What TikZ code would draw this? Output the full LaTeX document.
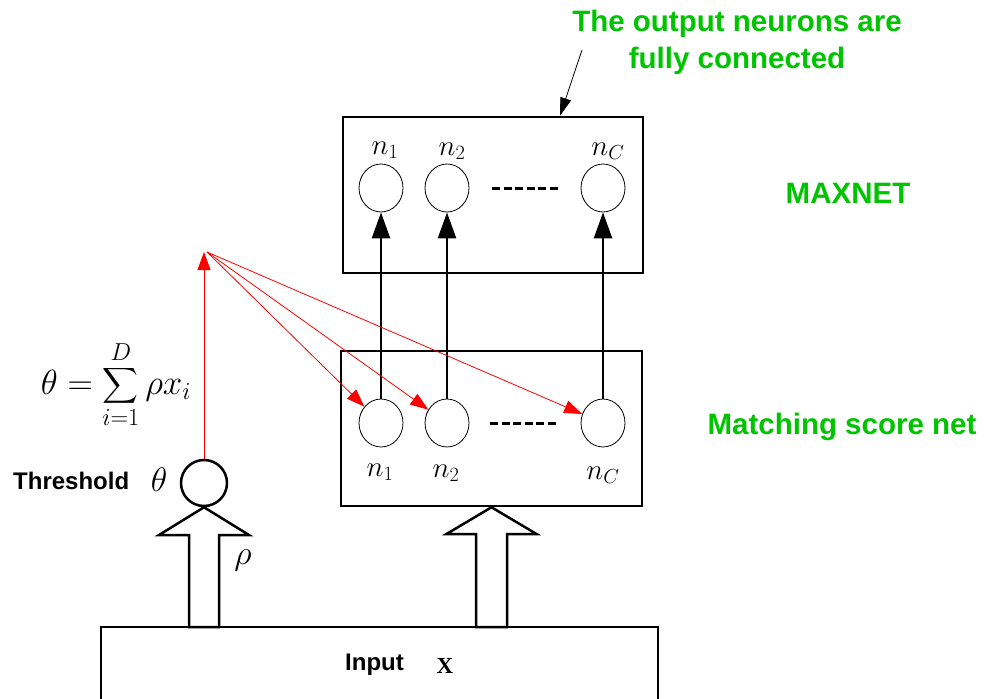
\RequirePackage{fix-cm}
\documentclass[tikz,border=0pt]{standalone}
\usepackage{exscale}
\usepackage{fontspec}
\setmainfont{Liberation Sans}
\newfontfamily\serifx{Liberation Serif}
\usetikzlibrary{arrows.meta,shapes.geometric,calc}
\definecolor{greenx}{RGB}{0,196,0}
\begin{document}
\begin{tikzpicture}[x=1pt,y=-1pt,
  neuron/.style={ellipse,draw,line width=0.8pt,minimum width=44pt,minimum height=48pt,inner sep=0pt},
  netbox/.style={draw,line width=2.5pt,inner sep=0pt},
  redarrow/.style={red,line width=0.8pt,-{Triangle[length=18pt,width=13pt]}},
  blkarrow/.style={line width=2.5pt,-{Triangle[length=26pt,width=18pt]}},
  dotsline/.style={line width=3pt,dash pattern=on 8pt off 3.5pt},
  greentxt/.style={text=greenx,font=\fontsize{29.5}{37}\selectfont\bfseries,align=center,inner sep=0pt},
  lbl/.style={font=\fontsize{29}{32}\selectfont,inner sep=0pt},
  sym/.style={font=\fontsize{34}{38}\selectfont,inner sep=0pt},
  hollow/.style={draw,line width=2.5pt,fill=white,line join=miter}]
\useasboundingbox (0,0) rectangle (984,698);

% boxes
\node[netbox,minimum width=300pt,minimum height=156pt] (maxbox) at (493,195) {};
\node[netbox,minimum width=301pt,minimum height=155pt] (scorebox) at (491.5,428.5) {};

% top neurons
\node[neuron] (t1) at (381,188) {};
\node[neuron] (t2) at (447,188) {};
\node[neuron] (tC) at (603,188) {};
\node[lbl] (lt1) at (385,150) {$n_1$};
\node[lbl] (lt2) at (452,151) {$n_2$};
\node[lbl] (ltC) at (608,151) {$n_C$};
\coordinate (td1) at (492,188);
\coordinate (td2) at (559,188);
\draw[dotsline] (td1) -- (td2);

% bottom neurons
\node[neuron] (b1) at (381,423) {};
\node[neuron] (b2) at (447,423) {};
\node[neuron] (bC) at (603,423) {};
\node[lbl] (lb1) at (380,472) {$n_1$};
\node[lbl] (lb2) at (446,473) {$n_2$};
\node[lbl] (lbC) at (603,475) {$n_C$};
\coordinate (bd1) at (490,423);
\coordinate (bd2) at (558,423);
\draw[dotsline] (bd1) -- (bd2);

% black arrows
\draw[blkarrow] (b1.north) -- (t1.south);
\draw[blkarrow] (b2.north) -- (t2.south);
\draw[blkarrow] (bC.north) -- (tC.south);

% threshold neuron
\node[ellipse,draw,line width=2.5pt,minimum width=46pt,minimum height=46pt,inner sep=0pt] (th) at (204,483) {};
\node[font=\fontsize{24}{28}\selectfont\bfseries,anchor=west,inner sep=0pt] (thtxt) at (13,481) {Threshold};
\node[sym] (thsym) at (159,480) {$\theta$};
\node[sym] (rho) at (243,560) {$\rho$};

% red connections
\coordinate (fan) at (207,252);
\draw[redarrow] (th.north) -- (th.north |- fan);
\draw[redarrow] (fan) -- (b1);
\draw[redarrow] (fan) -- (b2);
\draw[redarrow] (fan) -- (bC);

% formula
\node[font=\fontsize{35}{40}\selectfont,inner sep=0pt] (formula) at (116,385) {$\displaystyle\theta=\sum_{i=1}^{D}\rho x_i$};

% input box
\draw[line width=1.2pt] (101,700) -- (101,627) -- (658,627) -- (658,700);
\node[font=\fontsize{24}{28}\selectfont\bfseries,anchor=west,inner sep=0pt] (inp) at (345,665) {Input};
\node[font=\fontsize{23}{28}\selectfont\serifx\bfseries,inner sep=0pt] (inx) at (445,666) {X};

% hollow arrows
\draw[hollow] (th.south) -- (249,535) -- (219,535) -- (219,627) -- (189,627) -- (189,535) -- (159,535) -- cycle;
\draw[hollow] (scorebox.south) -- (536.5,534) -- (507,534) -- (507,627) -- (476,627) -- (476,534) -- (446.5,534) -- cycle;

% green annotations
\node[greentxt] (note) at (737,42) {The output neurons are\\fully connected};
\node[greentxt] (maxnet) at (848,193) {MAXNET};
\node[greentxt] (matching) at (842,427) {Matching score net};
\coordinate (annostart) at (582,50);
\draw[line width=0.8pt,-{Triangle[length=18pt,width=11pt]}] (annostart) -- ($(maxbox.north)+(67,0)$);
\end{tikzpicture}
\end{document}
